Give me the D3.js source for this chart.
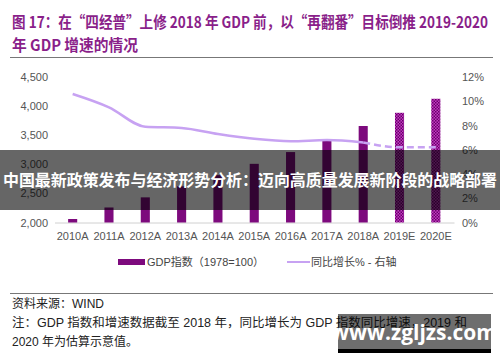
<!DOCTYPE html>
<html lang="zh">
<head>
<meta charset="UTF-8">
<title>GDP 指数与增速</title>
<script src="https://cdnjs.cloudflare.com/ajax/libs/d3/7.8.5/d3.min.js"></script>
<style>
    body { margin: 0; background: #fff; }
    svg { display: block; font-family: "Liberation Sans", Arial, "Noto Sans CJK SC", sans-serif; }
    .tick text { fill: #555; font-size: 11px; }
    .cjk { font-family: "Noto Sans CJK SC", sans-serif; }
</style>
</head>
<body>
<div id="chart"></div>
<script>
// data
const years = ["2010A", "2011A", "2012A", "2013A", "2014A", "2015A", "2016A", "2017A", "2018A", "2019E", "2020E"];
const gdpIndex = [2060, 2258, 2432, 2622, 2813, 3008, 3210, 3430, 3658, 3885, 4126];
const growth = [10.6, 9.5, 7.9, 7.8, 7.3, 6.9, 6.7, 6.8, 6.6, 6.2, 6.2];
const leftTicks = [2000, 2500, 3000, 3500, 4000, 4500];
const rightTicks = [0, 2, 4, 6, 8, 10, 12];

const W = 500, H = 362;
const purple = "#7d0a7d";
const lineColor = "#c7a2f2";

const svg = d3.select("#chart").append("svg")
    .attr("width", W).attr("height", H);

// checkered fill for estimates
const defs = svg.append("defs");
const pat = defs.append("pattern")
    .attr("id", "est")
    .attr("width", 3).attr("height", 3)
    .attr("patternUnits", "userSpaceOnUse");
pat.append("rect").attr("width", 3).attr("height", 3).attr("fill", "#c23cc2");
pat.append("rect").attr("width", 1.5).attr("height", 1.5).attr("fill", "#6a006a");
pat.append("rect").attr("x", 1.5).attr("y", 1.5).attr("width", 1.5).attr("height", 1.5).attr("fill", "#6a006a");

// title
const title = svg.append("g").attr("fill", "#8a1f8a").attr("font-weight", "bold").attr("font-size", 15.5);
title.append("text").attr("class", "cjk").attr("x", 12).attr("y", 28)
    .attr("textLength", 476).attr("lengthAdjust", "spacingAndGlyphs")
    .text("图 17：在“四经普”上修 2018 年 GDP 前，以“再翻番”目标倒推 2019-2020");
title.append("text").attr("class", "cjk").attr("x", 12).attr("y", 51)
    .attr("textLength", 126).attr("lengthAdjust", "spacingAndGlyphs")
    .text("年 GDP 增速的情况");

svg.append("line").attr("x1", 10).attr("x2", 493).attr("y1", 57.5).attr("y2", 57.5)
    .attr("stroke", "#777").attr("stroke-width", 1.2);

// scales
const x = d3.scaleBand().domain(years).range([54.5, 454]).paddingInner(0.75).paddingOuter(0.375);
const yL = d3.scaleLinear().domain([2000, 4500]).range([222.5, 77]);
const yR = d3.scaleLinear().domain([0, 12]).range([222.5, 77]);

// axes
const ax = svg.append("g").attr("transform", "translate(0,222.5)")
    .call(d3.axisBottom(x).tickSize(0).tickPadding(8));
ax.select(".domain").attr("stroke", "#d0d0d0");
ax.selectAll(".tick text").attr("dy", "0.9em");

svg.append("g").attr("transform", "translate(52,0)")
    .call(d3.axisLeft(yL).tickValues(leftTicks).tickFormat(d3.format(",")).tickSize(0).tickPadding(4))
    .call(g => g.select(".domain").remove());

svg.append("g").attr("transform", "translate(458,0)")
    .call(d3.axisRight(yR).tickValues(rightTicks).tickFormat(d => d + "%").tickSize(0).tickPadding(4))
    .call(g => g.select(".domain").remove());

// bars
svg.append("g").selectAll("rect").data(years).join("rect")
    .attr("x", d => x(d))
    .attr("width", x.bandwidth())
    .attr("y", (d, i) => yL(gdpIndex[i]))
    .attr("height", (d, i) => yL(2000) - yL(gdpIndex[i]))
    .attr("fill", d => d.endsWith("E") ? "url(#est)" : purple);

// growth line, solid for actuals, dashed for estimates
const cx = d => x(d) + x.bandwidth() / 2;
const line = d3.line().x(d => cx(d.year)).y(d => yR(d.v)).curve(d3.curveMonotoneX);
const pts = years.map((y, i) => ({year: y, v: growth[i]}));
const split = years.indexOf("2018A");
svg.append("path").attr("d", line(pts.slice(0, split + 1)))
    .attr("fill", "none").attr("stroke", lineColor).attr("stroke-width", 2.5);
svg.append("path").attr("d", line(pts.slice(split)))
    .attr("fill", "none").attr("stroke", lineColor).attr("stroke-width", 2.5)
    .attr("stroke-dasharray", "7,4");

// legend
const lg = svg.append("g").attr("font-size", 11).attr("fill", "#444");
lg.append("rect").attr("x", 118).attr("y", 259).attr("width", 27).attr("height", 6).attr("fill", purple);
lg.append("text").attr("x", 147).attr("y", 266).text("GDP指数（1978=100）");
lg.append("line").attr("x1", 287).attr("x2", 310).attr("y1", 262).attr("y2", 262)
    .attr("stroke", lineColor).attr("stroke-width", 2);
lg.append("text").attr("x", 311).attr("y", 266).text("同比增长% - 右轴");

// notes
svg.append("line").attr("x1", 10).attr("x2", 493).attr("y1", 293.5).attr("y2", 293.5)
    .attr("stroke", "#777").attr("stroke-width", 1.2);
const notes = svg.append("g").attr("font-size", 12).attr("fill", "#222");
notes.append("text").attr("x", 12).attr("y", 308).text("资料来源：WIND");
notes.append("text").attr("x", 12).attr("y", 327)
    .attr("textLength", 455).attr("lengthAdjust", "spacingAndGlyphs")
    .text("注：GDP 指数和增速数据截至 2018 年，同比增长为 GDP 指数同比增速，2019 和");
notes.append("text").attr("x", 12).attr("y", 346).text("2020 年为估算示意值。");

// overlay banner
svg.append("rect").attr("x", 0).attr("y", 150).attr("width", W).attr("height", 60)
    .attr("fill", "rgba(0,0,0,0.6)");
svg.append("text").attr("class", "cjk").attr("x", 250).attr("y", 186)
    .attr("text-anchor", "middle").attr("fill", "#fff").attr("font-weight", "bold")
    .attr("font-size", 16).attr("textLength", 494).attr("lengthAdjust", "spacingAndGlyphs")
    .text("中国最新政策发布与经济形势分析：迈向高质量发展新阶段的战略部署");

// watermark
svg.append("rect").attr("x", 338).attr("y", 314).attr("width", 153).attr("height", 35)
    .attr("fill", "rgba(0,0,0,0.57)");
svg.append("rect").attr("x", 338).attr("y", 349).attr("width", 153).attr("height", 4)
    .attr("fill", "#000");
svg.append("text").attr("x", 414).attr("y", 340).attr("text-anchor", "middle")
    .attr("fill", "#fff").attr("font-weight", "bold").attr("font-size", 21)
    .attr("font-family", "'Open Sans', sans-serif")
    .text("www.zgljzs.com");
</script>
</body>
</html>
